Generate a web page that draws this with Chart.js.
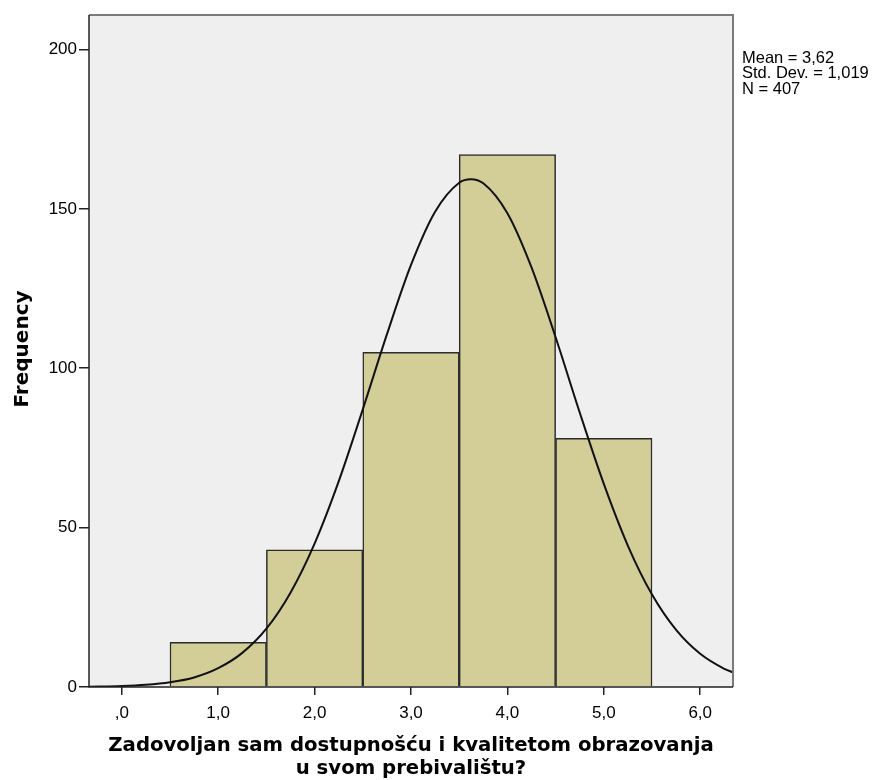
<!DOCTYPE html>
<html lang="hr">
<head>
  <meta charset="UTF-8">
  <title>Histogram</title>
  <script src="https://cdn.jsdelivr.net/npm/chart.js"></script>
  <style>
    body { margin: 0; background: #fff; }
    .box { width: 875px; height: 780px; }
  </style>
</head>
<body>
  <div class="box">
    <canvas id="histogram" width="875" height="780"></canvas>
  </div>

<script>
  // podaci s grafa
  const binCenters = [1, 2, 3, 4, 5];
  const frequencies = [14, 43, 105, 167, 78];

  // normalna krivulja (ocitano sa slike)
  const curveX = [-0.34, 0, 0.25, 0.5, 0.75, 1.0, 1.25, 1.5, 1.75, 2.0, 2.25, 2.5, 2.75, 3.0, 3.25, 3.5, 3.62, 3.75, 4.0, 4.25, 4.5, 4.75, 5.0, 5.25, 5.5, 5.75, 6.0, 6.25, 6.34];
  const curveY = [0.08, 0.3, 0.7, 1.5, 3.0, 5.9, 10.7, 18.3, 29.6, 45.0, 64.5, 87.1, 110.6, 132.4, 149.1, 158.2, 159.3, 158.0, 148.6, 131.6, 109.7, 86.1, 63.7, 44.3, 29.0, 17.9, 10.4, 5.7, 4.6];

  const xTicks = [0, 1, 2, 3, 4, 5, 6];
  const xTickLabels = [',0', '1,0', '2,0', '3,0', '4,0', '5,0', '6,0'];
  const yTicks = [0, 50, 100, 150, 200];

  const statsLines = ['Mean = 3,62', 'Std. Dev. = 1,019', 'N = 407'];
  const xTitle = ['Zadovoljan sam dostupnošću i kvalitetom obrazovanja', 'u svom prebivalištu?'];
  const yTitle = 'Frequency';

  const sivaPozadina = {
    id: 'sivaPozadina',
    beforeDatasetsDraw(chart) {
      const a = chart.chartArea;
      const ctx = chart.ctx;
      ctx.save();
      ctx.fillStyle = '#efefef';
      ctx.fillRect(a.left, a.top, a.right - a.left, a.bottom - a.top);
      ctx.restore();
    },
    afterDatasetsDraw(chart) {
      const a = chart.chartArea;
      const ctx = chart.ctx;
      ctx.save();
      ctx.strokeStyle = '#7a7a7a';
      ctx.lineWidth = 2;
      ctx.beginPath();
      ctx.moveTo(a.left, a.top);
      ctx.lineTo(a.right, a.top);
      ctx.lineTo(a.right, a.bottom);
      ctx.stroke();
      ctx.strokeStyle = '#222';
      ctx.lineWidth = 1.5;
      ctx.beginPath();
      ctx.moveTo(a.left, a.top);
      ctx.lineTo(a.left, a.bottom);
      ctx.lineTo(a.right, a.bottom);
      ctx.stroke();
      ctx.restore();
    },
    afterDraw(chart) {
      const a = chart.chartArea;
      const ctx = chart.ctx;
      ctx.save();
      ctx.fillStyle = '#000';
      ctx.font = '16.5px "Liberation Sans", Arial, sans-serif';
      ctx.textBaseline = 'middle';
      ctx.textAlign = 'left';
      statsLines.forEach(function (t, i) {
        ctx.fillText(t, a.right + 9, 58 + i * 15.5);
      });

      ctx.font = 'bold 19.7px "DejaVu Sans", Verdana, sans-serif';
      ctx.textAlign = 'center';
      const cx = (a.left + a.right) / 2;
      ctx.fillText(xTitle[0], cx, 746);
      ctx.fillText(xTitle[1], cx, 769);

      ctx.font = 'bold 20px "DejaVu Sans", Verdana, sans-serif';
      ctx.translate(23, 349);
      ctx.rotate(-Math.PI / 2);
      ctx.fillText(yTitle, 0, 0);
      ctx.restore();
    }
  };

  const ctx = document.getElementById('histogram').getContext('2d');
  new Chart(ctx, {
    type: 'bar',
    data: {
      datasets: [{
        type: 'line',
        data: curveX.map(function (x, i) { return { x: x, y: curveY[i] }; }),
        borderColor: '#111',
        borderWidth: 2,
        pointRadius: 0,
        cubicInterpolationMode: 'monotone',
        fill: false,
        order: 0
      }, {
        data: binCenters.map(function (x, i) { return { x: x, y: frequencies[i] }; }),
        backgroundColor: '#d3ce97',
        borderColor: '#2b2b2b',
        borderWidth: 1.5,
        barPercentage: 1,
        categoryPercentage: 1,
        order: 1
      }]
    },
    options: {
      responsive: false,
      animation: false,
      layout: { padding: { left: 0, top: 15, right: 142, bottom: 0 } },
      plugins: {
        legend: { display: false },
        tooltip: { enabled: false }
      },
      scales: {
        x: {
          type: 'linear',
          offset: false,
          min: -0.34,
          max: 6.34,
          afterBuildTicks: function (scale) {
            scale.ticks = xTicks.map(function (v) { return { value: v }; });
          },
          afterFit: function (scale) { scale.height = 93; },
          ticks: {
            color: '#000',
            font: { family: '"Liberation Sans", Arial, sans-serif', size: 17 },
            padding: 8,
            maxRotation: 0,
            callback: function (v) {
              const i = xTicks.indexOf(v);
              return i >= 0 ? xTickLabels[i] : '';
            }
          },
          grid: { offset: false, drawOnChartArea: false, drawTicks: true, tickLength: 8, tickColor: '#222', lineWidth: 1.5 },
          border: { display: false }
        },
        y: {
          min: 0,
          max: 210.8,
          afterBuildTicks: function (scale) {
            scale.ticks = yTicks.map(function (v) { return { value: v }; });
          },
          afterFit: function (scale) { scale.width = 89; },
          ticks: {
            color: '#000',
            font: { family: '"Liberation Sans", Arial, sans-serif', size: 17 },
            padding: 2
          },
          grid: { drawOnChartArea: false, drawTicks: true, tickLength: 10, tickColor: '#222', lineWidth: 1.5 },
          border: { display: false }
        }
      }
    },
    plugins: [sivaPozadina]
  });
</script>
</body>
</html>
